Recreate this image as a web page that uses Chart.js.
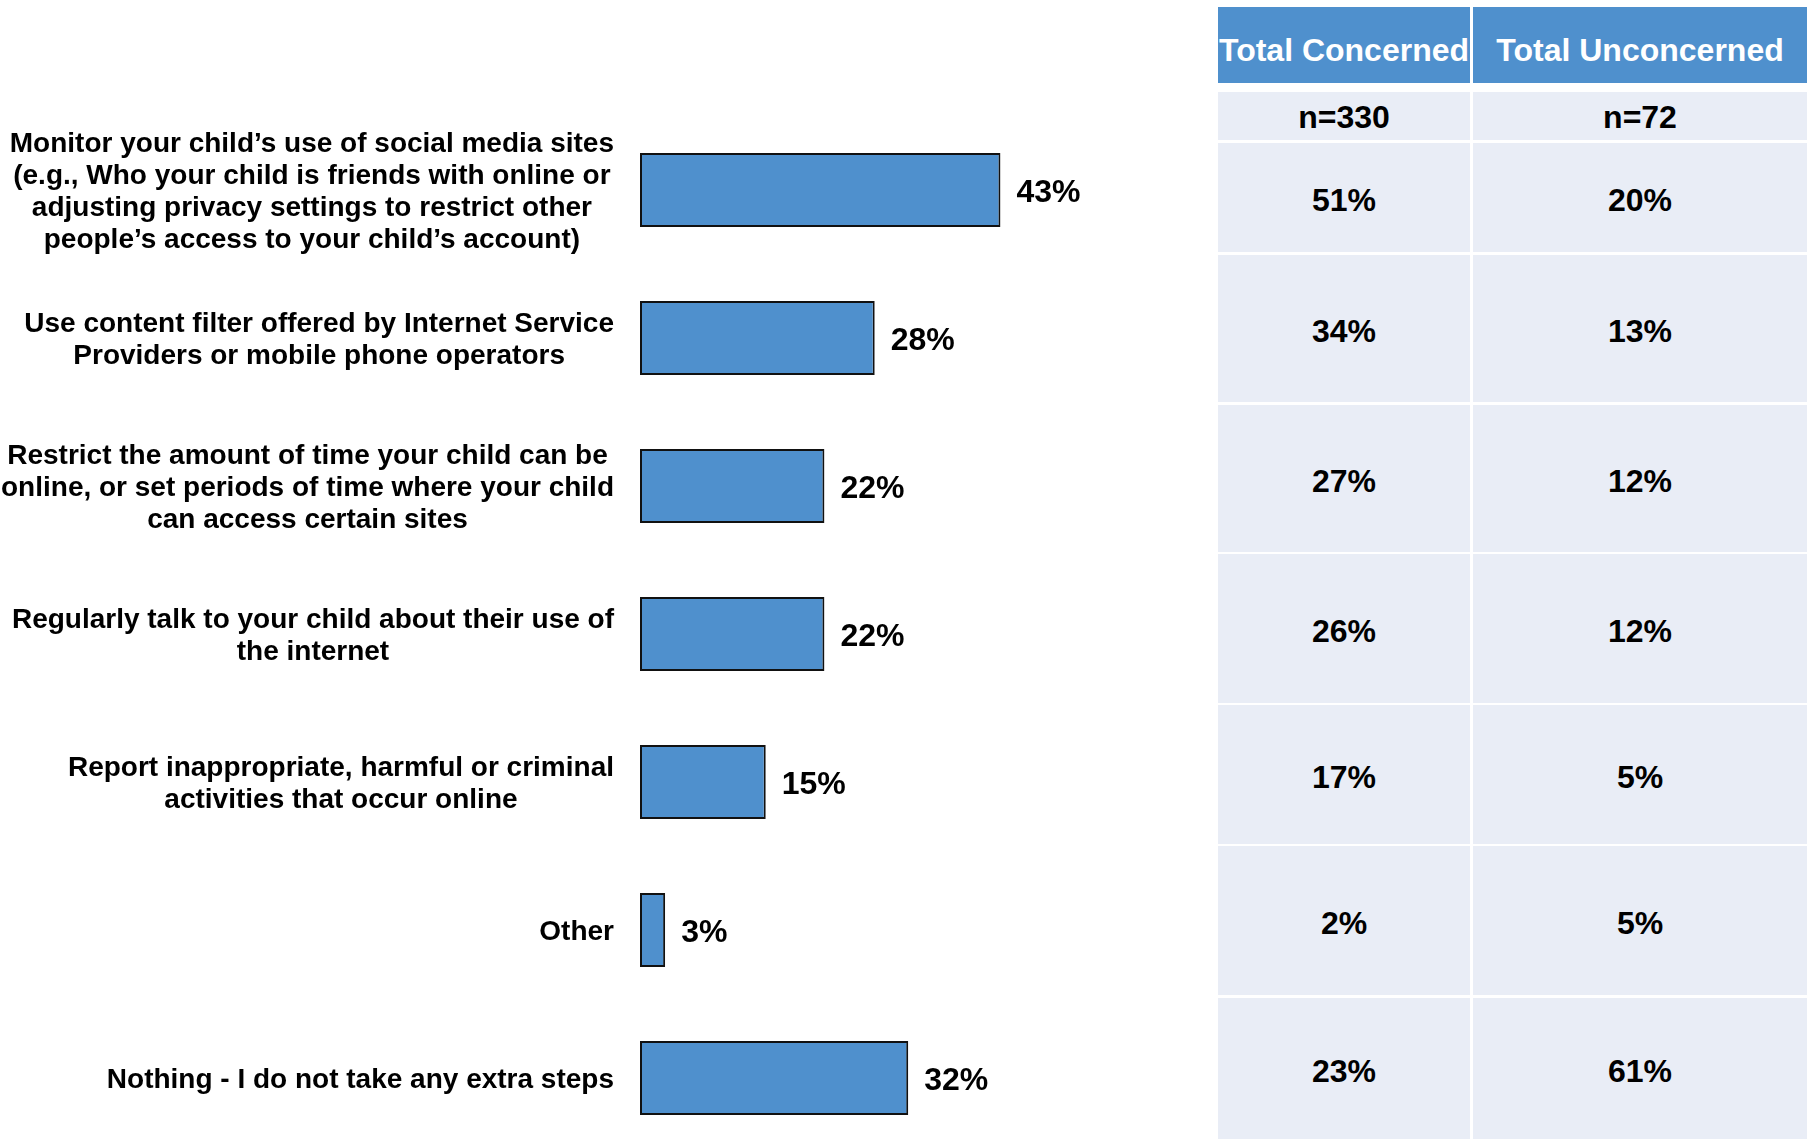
<!DOCTYPE html>
<html><head><meta charset="utf-8">
<script src="https://cdn.jsdelivr.net/npm/chart.js@4.4.0/dist/chart.umd.min.js"></script>
<style>
html,body{margin:0;padding:0;width:1807px;height:1139px;overflow:hidden;background:#fff;font-family:"Liberation Sans",Arial,sans-serif;}
#wrap{position:absolute;left:0;top:0;width:1210px;height:1160px;}
.cell{position:absolute;display:flex;align-items:center;justify-content:center;box-sizing:border-box;font-weight:bold;font-size:32px;color:#000;background:#E9EDF6;padding-top:6px;white-space:nowrap;}
.ncell{padding-top:2px;}
.hdr{background:#4F90CD;color:#fff;font-size:32px;padding-top:10px;}
</style></head><body>
<div id="wrap"><canvas id="c" width="1210" height="1160"></canvas></div>
<div id="table"></div>
<script>
// ---- data ----
const categories = [
  ["Monitor your child\u2019s use of social media sites","(e.g., Who your child is friends with online or","adjusting privacy settings to restrict other","people\u2019s access to your child\u2019s account)"],
  ["Use content filter offered by Internet Service","Providers or mobile phone operators"],
  ["Restrict the amount of time your child can be","online, or set periods of time where your child","can access certain sites"],
  ["Regularly talk to your child about their use of","the internet"],
  ["Report inappropriate, harmful or criminal","activities that occur online"],
  ["Other"],
  ["Nothing - I do not take any extra steps"]
];
const values = [43, 28, 22, 22, 15, 3, 32];
const tableHeaders = ["Total Concerned", "Total Unconcerned"];
const sampleSizes = ["n=330", "n=72"];
const concerned = [51, 34, 27, 26, 17, 2, 23];
const unconcerned = [20, 13, 12, 12, 5, 5, 61];

// ---- layout ----
const FONT = '"Liberation Sans", Arial, sans-serif';
const LABEL_RIGHT = 614;

const labelPlugin = {
  id: 'labels',
  afterDatasetsDraw(chart) {
    const ctx = chart.ctx;
    const ys = chart.scales.y;
    const xs = chart.scales.x;
    ctx.save();
    ctx.fillStyle = '#000';
    ctx.textBaseline = 'middle';
    categories.forEach((lines, i) => {
      const y = ys.getPixelForValue(i);
      ctx.font = 'bold 28px ' + FONT;
      let maxW = 0;
      lines.forEach(l => { maxW = Math.max(maxW, ctx.measureText(l).width); });
      const cx = LABEL_RIGHT - maxW / 2;
      const lh = 32;
      const start = y - (lines.length - 1) * lh / 2;
      ctx.textAlign = 'center';
      lines.forEach((l, k) => ctx.fillText(l, cx, start + k * lh + 2));
      // value label
      ctx.font = 'bold 32px ' + FONT;
      ctx.textAlign = 'left';
      ctx.fillText(values[i] + '%', xs.getPixelForValue(values[i]) + 16, y + 3);
    });
    ctx.restore();
  }
};

new Chart(document.getElementById('c'), {
  type: 'bar',
  data: {
    labels: categories.map(l => l.join(' ')),
    datasets: [{
      data: values,
      backgroundColor: '#4F90CD',
      borderColor: '#111',
      borderWidth: 2,
      borderSkipped: false,
      categoryPercentage: 1,
      barPercentage: 0.5
    }]
  },
  options: {
    indexAxis: 'y',
    responsive: false,
    animation: false,
    layout: { padding: { left: 640, right: 0, top: 116, bottom: 8 } },
    scales: {
      x: { display: false, min: 0, max: 68 },
      y: { display: false }
    },
    plugins: { legend: { display: false }, tooltip: { enabled: false } }
  },
  plugins: [labelPlugin]
});

// ---- table ----
const cols = [[1218, 1470], [1473, 1807]];
const headRow = [7, 83];
const nRow = [92, 140];
const dataRows = [[143, 252], [255, 402], [405, 552], [554, 703], [705, 844], [846, 995], [998, 1139]];
const tbl = document.getElementById('table');
function cell(text, col, row, cls) {
  const d = document.createElement('div');
  d.className = 'cell' + (cls ? ' ' + cls : '');
  d.style.left = col[0] + 'px';
  d.style.width = (col[1] - col[0]) + 'px';
  d.style.top = row[0] + 'px';
  d.style.height = (row[1] - row[0]) + 'px';
  d.textContent = text;
  tbl.appendChild(d);
}
tableHeaders.forEach((h, c) => cell(h, cols[c], headRow, 'hdr'));
sampleSizes.forEach((n, c) => cell(n, cols[c], nRow, 'ncell'));
dataRows.forEach((r, i) => {
  cell(concerned[i] + '%', cols[0], r);
  cell(unconcerned[i] + '%', cols[1], r);
});
</script>
</body></html>
